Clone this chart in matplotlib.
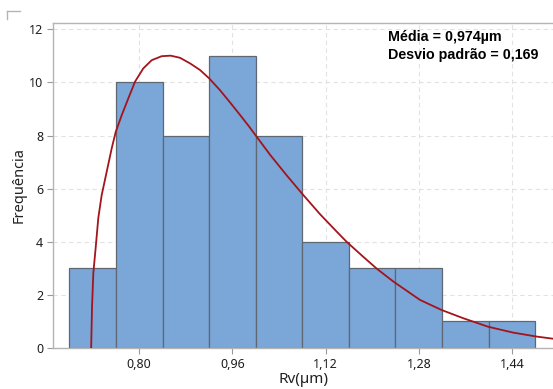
import numpy as np
import matplotlib
matplotlib.use("Agg")
import matplotlib.pyplot as plt
from matplotlib.lines import Line2D

# histogram bins (centres) and counts
bin_centers = [0.72, 0.80, 0.88, 0.96, 1.04, 1.12, 1.20, 1.28, 1.36, 1.44]
counts = [3, 10, 8, 11, 8, 4, 3, 3, 1, 1]
bin_width = 0.08

# fitted curve
fit_x = [0.7175, 0.7190, 0.7212, 0.7254, 0.7298, 0.7356, 0.7442, 0.7528, 0.7597,
         0.7700, 0.7813, 0.7928, 0.8070, 0.8215, 0.8386, 0.8540, 0.8700, 0.8872,
         0.9044, 0.9203, 0.9387, 0.9559, 0.9730, 0.9873, 0.9988, 1.0246, 1.0529,
         1.0790, 1.1104, 1.1392, 1.1561, 1.1849, 1.2077, 1.2365, 1.2821, 1.3193,
         1.3565, 1.3992, 1.4419, 1.4825, 1.5103]
fit_y = [0.0, 1.55, 2.81, 3.81, 4.90, 5.76, 6.64, 7.52, 8.14,
         8.77, 9.40, 10.03, 10.53, 10.84, 10.99, 11.01, 10.93, 10.72,
         10.47, 10.15, 9.71, 9.25, 8.78, 8.38, 8.04, 7.28, 6.51,
         5.83, 5.04, 4.38, 4.00, 3.43, 2.99, 2.50, 1.81, 1.43,
         1.12, 0.80, 0.58, 0.43, 0.35]

xticks = [0.80, 0.96, 1.12, 1.28, 1.44]
xtick_labels = ["0,80", "0,96", "1,12", "1,28", "1,44"]
yticks = [0, 2, 4, 6, 8, 10, 12]

plt.rcParams['font.family'] = ['Noto Sans', 'DejaVu Sans']

fig = plt.figure(figsize=(5.53, 3.89), dpi=100)
ax = fig.add_axes([53 / 553, 1 - 348 / 389, 1 - 53 / 553, (348 - 23) / 389])

ax.bar(bin_centers, counts, width=bin_width, color="#7ba6d8",
       edgecolor="#5f6872", linewidth=0.9, zorder=2)
ax.plot(fit_x, fit_y, color="#a3141c", linewidth=1.3, zorder=3)

ax.set_xlim(0.652, 1.5104)
ax.set_ylim(0, 12.24)
ax.set_xticks(xticks)
ax.set_xticklabels(xtick_labels)
ax.set_yticks(yticks)

ax.grid(True, linestyle=(0, (4, 3)), color="#e2e2e2", linewidth=0.8, zorder=0)
ax.set_axisbelow(True)

for side in ["left", "top", "bottom"]:
    ax.spines[side].set_color("#b4b4b4")
    ax.spines[side].set_linewidth(1.0)
ax.spines["right"].set_visible(False)

ax.tick_params(axis="both", length=4, width=0.8, color="#9a9a9a",
               labelsize=9, labelcolor="#1e1e1e", pad=3)
for lab in ax.get_xticklabels() + ax.get_yticklabels():
    lab.set_fontweight("medium")

ax.set_xlabel("Rv(µm)", fontsize=11, color="#222222", labelpad=1)
ax.set_ylabel("Frequência", fontsize=10.5, color="#222222", labelpad=2)

ax.text(388 / 553, 1 - 37 / 389, "Média = 0,974µm", transform=fig.transFigure,
        fontsize=10.3, fontweight="bold", family="Liberation Sans", va="center", ha="left")
ax.text(388 / 553, 1 - 55 / 389, "Desvio padrão = 0,169", transform=fig.transFigure,
        fontsize=10.3, fontweight="bold", family="Liberation Sans", va="center", ha="left")

# little corner mark at the top left
fig.add_artist(Line2D([7 / 553, 20 / 553], [1 - 11 / 389, 1 - 11 / 389],
                      color="#b4b4b4", linewidth=1.0))
fig.add_artist(Line2D([7 / 553, 7 / 553], [1 - 11 / 389, 1 - 19 / 389],
                      color="#b4b4b4", linewidth=1.0))

fig.savefig("out.png", dpi=100)
